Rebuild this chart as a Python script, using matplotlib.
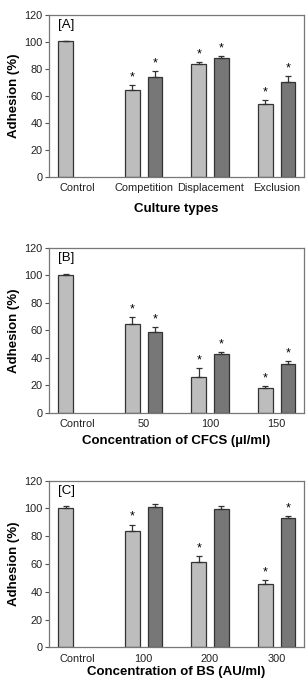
import numpy as np
import matplotlib.pyplot as plt

plt.rcParams['font.family'] = ['Liberation Sans', 'DejaVu Sans']

# Panel A - culture types
cats_a = ["Control", "Competition", "Displacement", "Exclusion"]
light_a = [100.4, 64.4, 83.6, 53.8]
light_err_a = [0.7, 3.5, 1.7, 3.5]
dark_a = [None, 74.3, 88.3, 70.1]
dark_err_a = [None, 4.2, 1.5, 4.5]

# Panel B - CFCS concentration
cats_b = ["Control", "50", "100", "150"]
light_b = [100.2, 64.6, 26.0, 18.3]
light_err_b = [0.8, 5.0, 6.8, 1.0]
dark_b = [None, 59.0, 42.9, 35.4]
dark_err_b = [None, 3.7, 1.4, 2.6]

# Panel C - BS concentration
cats_c = ["Control", "100", "200", "300"]
light_c = [100.0, 83.9, 61.2, 45.3]
light_err_c = [1.7, 4.5, 4.8, 2.9]
dark_c = [None, 101.2, 99.8, 93.0]
dark_err_c = [None, 1.9, 2.2, 1.7]

# significance markers
star_light_a = [False, True, True, True]
star_dark_a = [False, True, True, True]
star_light_b = [False, True, True, True]
star_dark_b = [False, True, True, True]
star_light_c = [False, True, True, True]
star_dark_c = [False, False, False, True]

panels = [
    ("[A]", cats_a, light_a, light_err_a, dark_a, dark_err_a, star_light_a, star_dark_a,
     "Culture types", [0.159, 0.7408, 0.828, 0.2372], 7),
    ("[B]", cats_b, light_b, light_err_b, dark_b, dark_err_b, star_light_b, star_dark_b,
     "Concentration of CFCS (\u00b5l/ml)", [0.159, 0.3953, 0.828, 0.242], 4),
    ("[C]", cats_c, light_c, light_err_c, dark_c, dark_err_c, star_light_c, star_dark_c,
     "Concentration of BS (AU/ml)", [0.159, 0.0523, 0.828, 0.244], 2),
]

light_col = "#bdbdbd"
dark_col = "#777777"
edge = "#333333"
w = 0.22
off = 0.17

fig = plt.figure(figsize=(3.08, 6.83), dpi=100)

for tag, cats, lv, le, dv, de, sl, sd, xlab, rect, lpad in panels:
    ax = fig.add_axes(rect)
    x = np.arange(len(cats))
    ekw = dict(ecolor=edge, elinewidth=0.9, capsize=2.5, capthick=0.9)
    for i in range(len(cats)):
        ax.bar(x[i] - off, lv[i], w, yerr=[[0], [le[i]]], color=light_col,
               edgecolor=edge, linewidth=0.9, error_kw=ekw)
        if sl[i]:
            ax.text(x[i] - off, lv[i] + le[i] + 1.2, "*", ha="center", va="bottom", fontsize=9)
        if dv[i] is not None:
            ax.bar(x[i] + off, dv[i], w, yerr=[[0], [de[i]]], color=dark_col,
                   edgecolor=edge, linewidth=0.9, error_kw=ekw)
            if sd[i]:
                ax.text(x[i] + off, dv[i] + de[i] + 1.2, "*", ha="center", va="bottom", fontsize=9)
    ax.set_xlim(-0.42, 3.41)
    ax.set_ylim(0, 120)
    ax.set_yticks(range(0, 121, 20))
    ax.set_xticks(x)
    ax.set_xticklabels(cats)
    ax.tick_params(axis="x", length=0, labelsize=7.9, pad=4.5, labelcolor="#222222")
    ax.tick_params(axis="y", length=3, labelsize=7.9, pad=1.5, color="#555555", labelcolor="#222222")
    for s in ax.spines.values():
        s.set_color("#777777")
        s.set_linewidth(0.9)
    ax.set_ylabel("Adhesion (%)", fontsize=9.5, fontweight="bold", labelpad=3)
    ax.set_xlabel(xlab, fontsize=9.5, fontweight="bold", labelpad=lpad)
    ax.text(0.035, 0.975, tag, transform=ax.transAxes, ha="left", va="top", fontsize=9.5)

fig.savefig("out.png", dpi=100)
